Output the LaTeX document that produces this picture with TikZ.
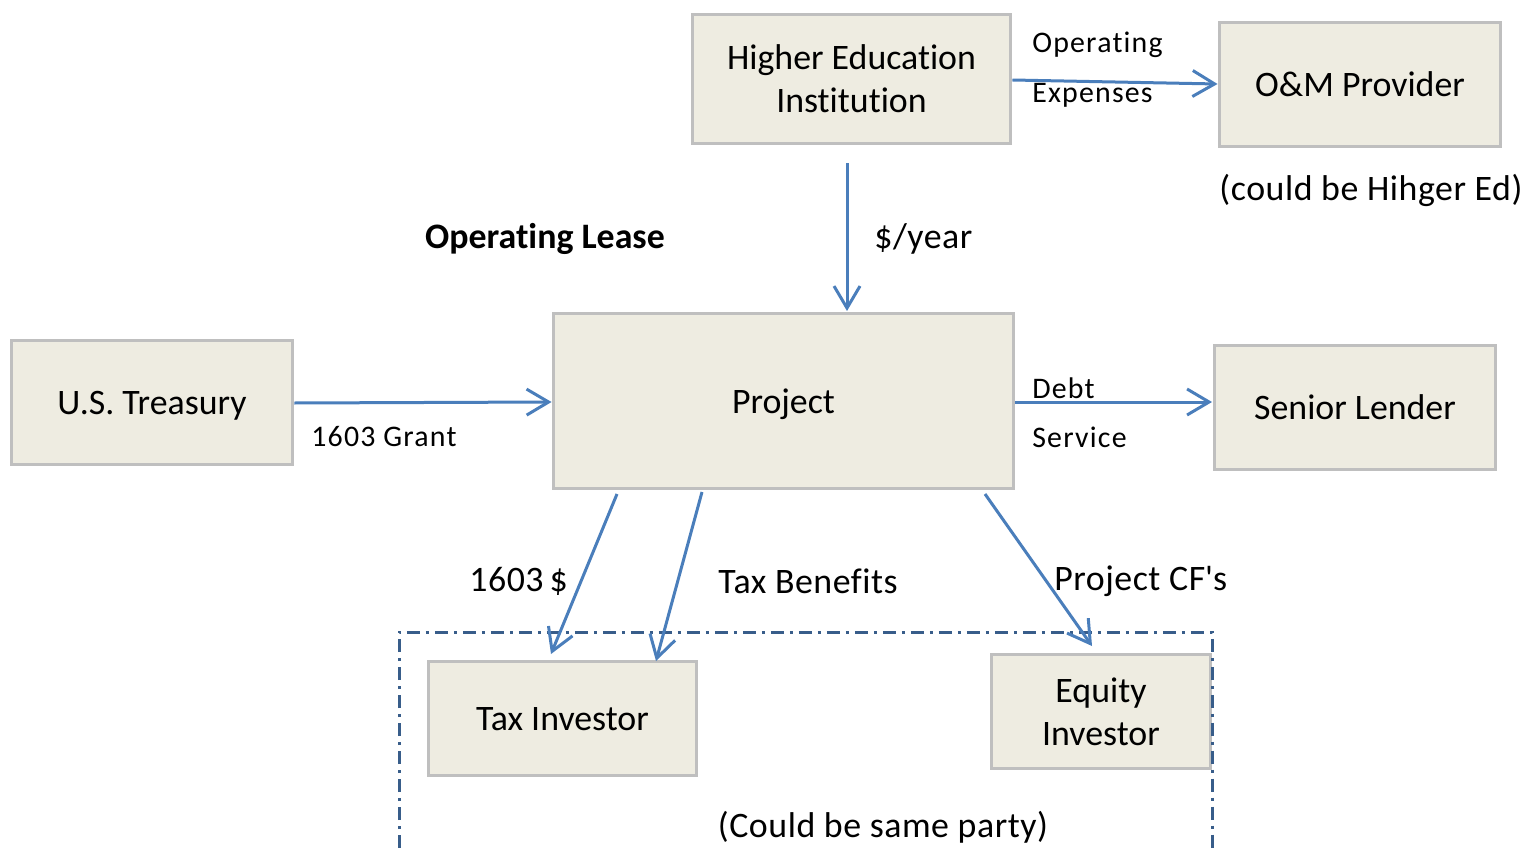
\documentclass[tikz,border=0pt]{standalone}
\usepackage{fontspec}
\setmainfont{Carlito}[Ligatures=NoCommon]
\usetikzlibrary{arrows.meta}
\definecolor{boxfill}{HTML}{EEECE1}
\definecolor{boxline}{HTML}{BFBFBF}
\definecolor{flow}{HTML}{4A7EBB}
\definecolor{groupline}{HTML}{385D8A}
\newfontfamily\smallface{Carlito}[Ligatures=NoCommon,LetterSpace=4]
\newfontfamily\bigface{Carlito}[Ligatures=NoCommon,LetterSpace=1.5]
\begin{document}
\begin{tikzpicture}[x=0.02cm,y=-0.02cm,
  box/.style={draw=boxline,fill=boxfill,line width=0.06cm,align=center,
    font=\fontsize{20.4}{24.5}\selectfont,inner sep=0pt,text depth=0pt},
  flowarrow/.style={draw=flow,line width=0.06cm,
    -{Straight Barb[length=0.44cm,width=0.52cm,line width=0.06cm]}},
  lbl/.style={font=\smallface\fontsize{17}{20}\selectfont,inner sep=0pt,anchor=west},
  biglbl/.style={font=\bigface\fontsize{20.4}{24.5}\selectfont,inner sep=0pt}]
\useasboundingbox (0,0) rectangle (1528,848);

% boxes
\node[box,minimum width=6.38cm,minimum height=2.6cm] (hei) at (851.5,79) {Higher Education\\Institution};
\node[box,minimum width=5.64cm,minimum height=2.5cm] (om) at (1360,84.5) {O\&M Provider};
\node[box,minimum width=9.22cm,minimum height=3.52cm] (proj) at (783.5,401) {Project};
\node[box,minimum width=5.64cm,minimum height=2.5cm] (ust) at (152,402.5) {U.S. Treasury};
\node[box,minimum width=5.64cm,minimum height=2.5cm] (sl) at (1355,407.5) {Senior Lender};
\node[box,minimum width=5.38cm,minimum height=2.3cm] (tax) at (562.5,718.5) {Tax Investor};
\node[box,minimum width=4.4cm,minimum height=2.3cm] (eq) at (1101,711.5) {Equity\\Investor};

% dash-dot grouping frame
\draw[groupline,line width=0.06cm,dash pattern=on 0.26cm off 0.12cm on 0.06cm off 0.12cm]
  (399,848) -- (399,632) -- (1212,632) -- (1212,848);

% connector end points
\coordinate (heiS) at (847,163);
\coordinate (projN) at (847,311);
\coordinate (p1) at (617,494);
\coordinate (t1) at (551,654);
\coordinate (p2) at (702,492);
\coordinate (t2) at (656,661);
\coordinate (p3) at (985,494);
\coordinate (e1) at (1092,646);

% flows
\draw[flowarrow] (hei.east |- 0,80) -- (om.west |- 0,84);
\draw[flowarrow] (heiS) -- (projN);
\draw[flowarrow] (ust.east |- 0,403) -- (proj.west |- 0,402);
\draw[flowarrow] (proj.east |- 0,402) -- (1212,402);
\draw[flowarrow] (p1) -- (t1);
\draw[flowarrow] (p2) -- (t2);
\draw[flowarrow] (p3) -- (e1);

% labels
\node[lbl] (l1) at (1032,45) {Operating};
\node[lbl] (l2) at (1032,95) {Expenses};
\node[biglbl,font=\fontsize{20.4}{24.5}\selectfont\bfseries] (l3) at (545,239) {Operating Lease};
\node[biglbl,anchor=west] (l4) at (874,239) {\$/year};
\node[biglbl] (l5) at (1371,190) {(could be Hihger Ed)};
\node[lbl] (l6) at (311,437) {1603 Grant};
\node[lbl] (l7) at (1032,388) {Debt};
\node[lbl] (l8) at (1032,437) {Service};
\node[biglbl,anchor=west] (l9) at (469,581) {1603\,\$};
\node[biglbl,anchor=west] (l10) at (718,581) {Tax Benefits};
\node[biglbl,anchor=west] (l11) at (1054,581) {Project CF\textquotesingle s};
\node[biglbl] (l12) at (883,827) {(Could be same party)};
\end{tikzpicture}
\end{document}
